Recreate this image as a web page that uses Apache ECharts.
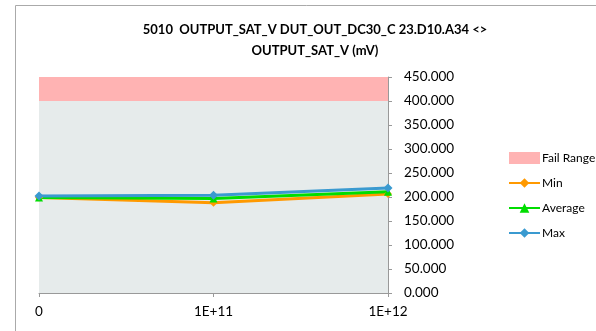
<!DOCTYPE html>
<html>
<head>
<meta charset="utf-8">
<script src="https://cdn.jsdelivr.net/npm/echarts@6/dist/echarts.min.js"></script>
<style>
  html, body { margin: 0; padding: 0; background: #fff; }
  #chart { width: 596px; height: 331px; }
</style>
</head>
<body>
<div id="chart"></div>
<script>
// Sweep points on the x axis
const categories = ['0', '1E+11', '1E+12'];
// Pass band (bottom) and fail band limits, mV
const passLimit = [400, 400, 400];
const failUpper = [450, 450, 450];
// Measured statistics, mV
const minValues = [199, 188, 206];
const avgValues = [199, 197, 211];
const maxValues = [202, 203.5, 219];

const FONT = 'Lato, "Open Sans", sans-serif';
const failBand = failUpper.map((v, i) => v - passLimit[i]);

const chart = echarts.init(document.getElementById('chart'));

function statSeries(name, data, color, symbol, size) {
  return {
    name: name,
    type: 'line',
    data: data,
    color: color,
    symbol: symbol,
    symbolSize: size,
    lineStyle: { width: 3, color: color },
    itemStyle: { color: color },
    z: 5
  };
}

chart.setOption({
  animation: false,
  backgroundColor: '#fff',
  title: {
    text: '5010  OUTPUT_SAT_V DUT_OUT_DC30_C 23.D10.A34 <>\nOUTPUT_SAT_V (mV)',
    left: 310,
    top: 14,
    textAlign: 'center',
    textStyle: { fontFamily: FONT, fontSize: 13, fontWeight: 'bold', color: '#000', lineHeight: 21 }
  },
  graphic: [{
    type: 'rect',
    shape: { x: 15.5, y: 5.5, width: 700, height: 500 },
    style: { fill: 'none', stroke: '#aaaaaa', lineWidth: 1 },
    silent: true
  }],
  legend: {
    orient: 'vertical',
    left: 503,
    top: 147,
    itemGap: 13,
    itemWidth: 31,
    itemHeight: 12,
    textStyle: { fontFamily: FONT, fontSize: 12, color: '#000', padding: [0, 0, 0, -3] },
    data: [
      { name: 'Fail Range', icon: 'rect', itemStyle: { color: '#FFB3B3' } },
      { name: 'Min' },
      { name: 'Average' },
      { name: 'Max' }
    ]
  },
  grid: { left: 39, right: 208, top: 77, bottom: 38 },
  xAxis: {
    type: 'category',
    data: categories,
    boundaryGap: false,
    axisLine: { lineStyle: { color: '#999', width: 1 } },
    axisTick: { show: true, length: 4, alignWithLabel: true, lineStyle: { color: '#999' } },
    axisLabel: { fontFamily: FONT, fontSize: 13.5, color: '#000', margin: 12 },
    splitLine: { show: false }
  },
  yAxis: {
    type: 'value',
    position: 'right',
    min: 0,
    max: 450,
    interval: 50,
    axisLine: { show: true, lineStyle: { color: '#999', width: 1 } },
    axisTick: { show: true, length: 4, lineStyle: { color: '#999' } },
    axisLabel: {
      fontFamily: FONT, fontSize: 13.5, color: '#000', margin: 16,
      formatter: v => v.toFixed(3)
    },
    splitLine: { show: false }
  },
  series: [
    {
      name: 'Pass',
      type: 'line',
      stack: 'band',
      data: passLimit,
      symbol: 'none',
      lineStyle: { width: 0 },
      areaStyle: { color: '#E6EBEB', opacity: 1 },
      z: 1
    },
    {
      name: 'Fail Range',
      type: 'line',
      stack: 'band',
      data: failBand,
      symbol: 'none',
      color: '#FFB3B3',
      lineStyle: { width: 0 },
      areaStyle: { color: '#FFB3B3', opacity: 1 },
      z: 1
    },
    statSeries('Min', minValues, '#FF9900', 'diamond', 8),
    statSeries('Average', avgValues, '#00DD00', 'triangle', 8),
    statSeries('Max', maxValues, '#3A9AD0', 'diamond', 9)
  ]
});
</script>
</body>
</html>
